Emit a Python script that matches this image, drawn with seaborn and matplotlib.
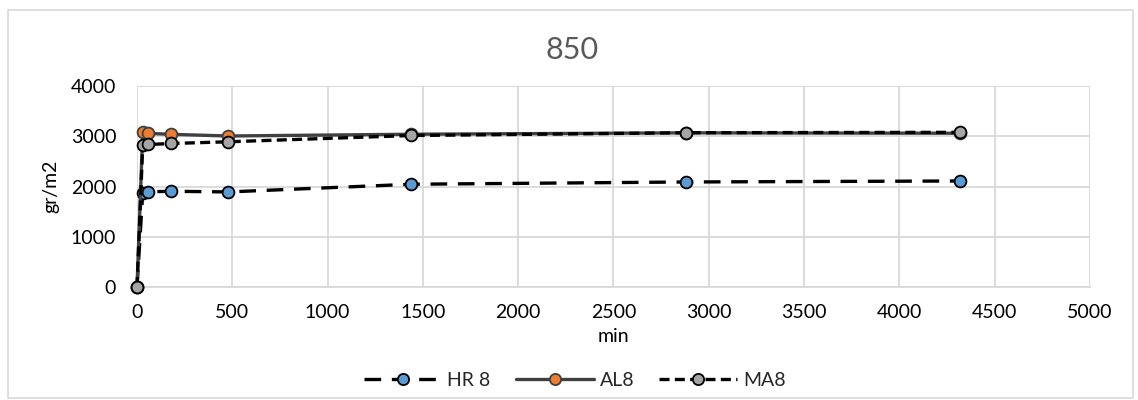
import matplotlib
matplotlib.use("Agg")
import matplotlib.pyplot as plt
import seaborn as sns
import pandas as pd
from matplotlib.patches import Rectangle

# Sampling times (min) and measured values (gr/m2)
minutes = [0, 30, 60, 180, 480, 1440, 2880, 4320]
hr8 = [0, 1880, 1895, 1905, 1892, 2045, 2090, 2110]
al8 = [0, 3075, 3058, 3038, 3005, 3040, 3068, 3060]
ma8 = [0, 2820, 2836, 2856, 2890, 3015, 3070, 3078]
series_names = ["HR 8", "AL8", "MA8"]
title_text = "850"
x_ticks = [0, 500, 1000, 1500, 2000, 2500, 3000, 3500, 4000, 4500, 5000]
y_ticks = [0, 1000, 2000, 3000, 4000]

sns.set_theme(style="whitegrid")
plt.rcParams["font.family"] = ["Lato", "DejaVu Sans"]

fig = plt.figure(figsize=(11.38, 4.0), dpi=100)
ax = fig.add_axes([0.1204, 0.2825, 0.8374, 0.5025])

# outer chart border
fig.patches.append(Rectangle((8 / 1138, 2 / 400), 1125 / 1138, 388 / 400,
                             transform=fig.transFigure, fill=False,
                             edgecolor="#D9D9D9", linewidth=1.2))

styles = {
    "HR 8": dict(values=hr8, face="#5B9BD5", line="#000000", dashes=(5.0, 3.2), edge="#000000"),
    "AL8": dict(values=al8, face="#ED7D31", line="#404040", dashes=None, edge="#404040"),
    "MA8": dict(values=ma8, face="#A5A5A5", line="#000000", dashes=(3.0, 1.6), edge="#000000"),
}

handles = []
for name in series_names:
    st = styles[name]
    df = pd.DataFrame({"min": minutes, "val": st["values"]})
    n_before = len(ax.lines)
    sns.lineplot(data=df, x="min", y="val", ax=ax, color=st["line"], linewidth=2.4,
                 marker="o", markersize=8.5, markerfacecolor=st["face"],
                 markeredgecolor=st["edge"], markeredgewidth=1.3, estimator=None,
                 sort=False, legend=False)
    line = ax.lines[n_before]
    line.set_clip_on(False)
    line.set_zorder(3)
    if st["dashes"] is not None:
        line.set_dashes(st["dashes"])
    handles.append(line)

ax.set_xlim(0, 5000)
ax.set_ylim(0, 4000)
ax.set_xticks(x_ticks)
ax.set_yticks(y_ticks)
ax.grid(True, color="#D9D9D9", linewidth=1.3)
ax.set_axisbelow(True)
for side in ["top", "right", "left"]:
    ax.spines[side].set_visible(False)
ax.spines["bottom"].set_visible(True)
ax.spines["bottom"].set_color("#D9D9D9")
ax.spines["bottom"].set_linewidth(1.3)
ax.tick_params(axis="x", length=0, labelsize=14, labelcolor="#000000", pad=12)
ax.tick_params(axis="y", length=0, labelsize=14, labelcolor="#000000", pad=15)
ax.set_facecolor("white")

ax.set_xlabel("min", fontsize=14, color="#000000", labelpad=5)
ax.set_ylabel("gr/m2", fontsize=14, color="#000000", labelpad=8)
fig.text(0.503, 0.875, title_text, ha="center", va="center", fontsize=22, color="#595959")

fig.legend(handles, series_names, loc="center", bbox_to_anchor=(0.505, 0.048), ncol=3,
           frameon=False, fontsize=14, handlelength=4.0, columnspacing=1.3,
           handletextpad=0.3, markerscale=0.95)

fig.savefig("out.png", dpi=100, facecolor="white")
